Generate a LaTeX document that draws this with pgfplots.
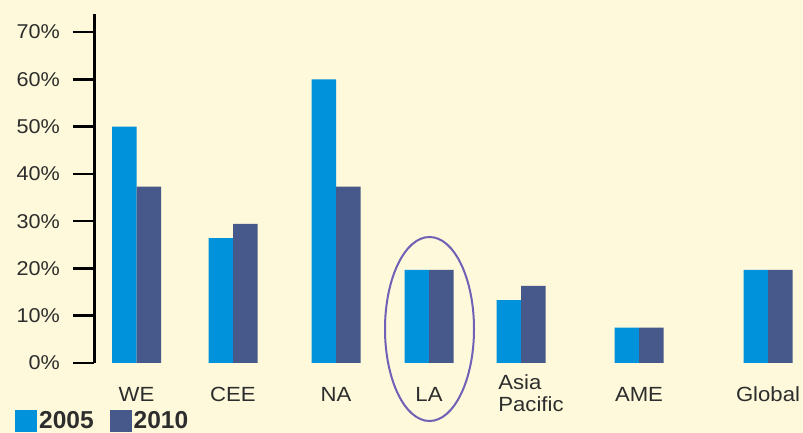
\documentclass[border=0pt]{standalone}
\usepackage{fontspec}
\setmainfont[FakeStretch=1.08]{Liberation Sans}
\newfontfamily\legfont{Liberation Sans}
\usepackage{pgfplots}
\pgfplotsset{compat=1.18}

\definecolor{bg}{RGB}{253,249,218}
\definecolor{c2005}{RGB}{0,146,218}
\definecolor{c2010}{RGB}{70,89,138}
\definecolor{ring}{RGB}{112,96,182}
\definecolor{txt}{RGB}{45,45,45}

\begin{document}
\begin{tikzpicture}[x=1pt,y=1pt]
	\fill[bg] (0,0) rectangle (803,433);
	\useasboundingbox (0,0) rectangle (803,433);
	\begin{axis}[
			at={(94pt,70pt)}, anchor=south west,
			width=709pt, height=349pt, scale only axis,
			xmin=94, xmax=803,
			ymin=0, ymax=73.8,
			enlargelimits=false,
			separate axis lines,
			axis x line*=bottom,
			axis y line*=left,
			x axis line style={draw=none},
			y axis line style={line width=3pt, black, -},
			ybar, bar width=24.5pt,
			ytick={0,10,20,30,40,50,60,70},
			yticklabels={0\%,10\%,20\%,30\%,40\%,50\%,60\%,70\%},
			ytick pos=left,
			tick align=outside,
			major tick length=21pt,
			ytick style={line width=2.5pt, black},
			yticklabel style={font=\fontsize{20}{21}\selectfont, text=txt, anchor=east, inner sep=0pt, xshift=-13pt},
			xtick={136.5,233,336,429,521,639,768},
			xticklabels={WE,CEE,NA,LA,{\hspace*{20pt}\raisebox{12pt}{\begin{tabular}[t]{@{}l@{}}Asia\\[1pt]Pacific\end{tabular}}},AME,Global},
			xtick style={draw=none},
			xticklabel style={font=\fontsize{20.5}{21}\selectfont, text=txt, anchor=base, inner sep=0pt, yshift=-17.7pt},
			legend columns=2,
			legend style={at={(-0.1114,-0.1978)}, anchor=south west, draw=none, fill=none, inner sep=0pt,
				font=\legfont\bfseries\fontsize{24.5}{25}\selectfont, text=txt,
				/tikz/every even column/.append style={column sep=14pt}},
			legend image code/.code={\fill[#1] (0pt,-11.5pt) rectangle (22pt,10.5pt);},
		]
		\addplot[fill=c2005, draw=none, bar shift=-12.25pt] coordinates {
				(136.5,50) (233,26.4) (336,60) (429,19.7) (521,13.3) (639,7.5) (768,19.7)
			};
		\addplot[fill=c2010, draw=none, bar shift=12.25pt] coordinates {
				(136.5,37.3) (233,29.4) (336,37.3) (429,19.7) (521,16.3) (639,7.5) (768,19.7)
			};
		\legend{2005,2010}
	\end{axis}
	\draw[ring, line width=2pt] (429.5,104) ellipse [x radius=44.5, y radius=92];
\end{tikzpicture}
\end{document}
